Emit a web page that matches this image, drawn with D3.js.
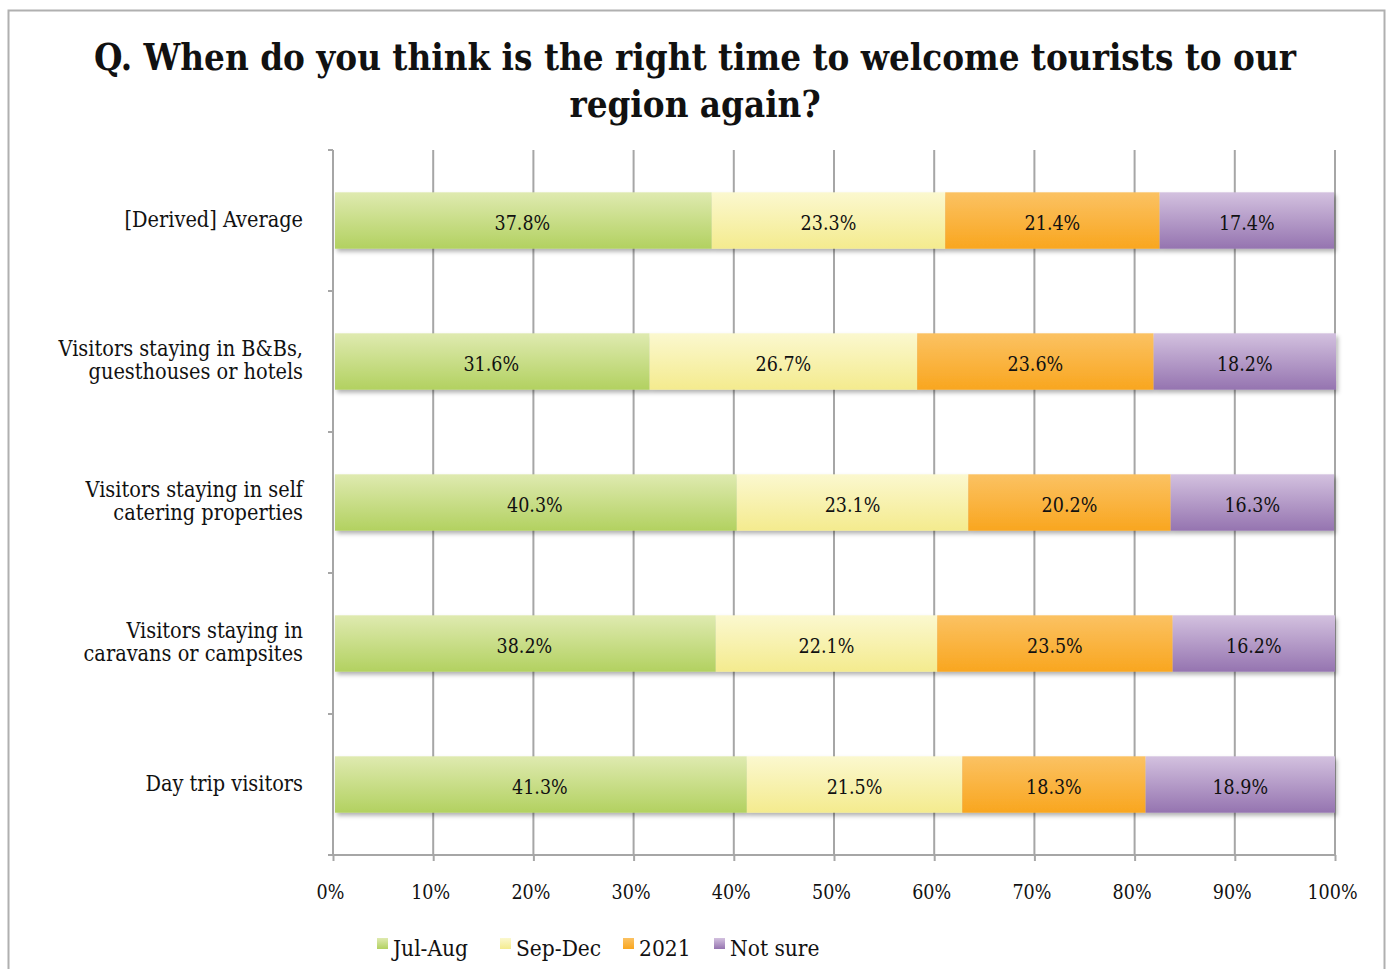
<!DOCTYPE html>
<html>
<head>
<meta charset="utf-8">
<script src="https://cdn.jsdelivr.net/npm/d3@7"></script>
<style>
  html, body { margin: 0; padding: 0; background: #fff; }
  svg text { font-family: "DejaVu Serif", serif; font-stretch: condensed; fill: #111; }
</style>
</head>
<body>
<svg id="chart" width="1391" height="969"></svg>
<script>
// Survey responses, % of respondents per visitor type
const categories = [
  "[Derived] Average",
  "Visitors staying in B&Bs,\nguesthouses or hotels",
  "Visitors staying in self\ncatering properties",
  "Visitors staying in\ncaravans or campsites",
  "Day trip visitors"
];
const seriesNames = ["Jul-Aug", "Sep-Dec", "2021", "Not sure"];
const julAug  = [37.8, 31.6, 40.3, 38.2, 41.3];
const sepDec  = [23.3, 26.7, 23.1, 22.1, 21.5];
const y2021   = [21.4, 23.6, 20.2, 23.5, 18.3];
const notSure = [17.4, 18.2, 16.3, 16.2, 18.9];
const xTicks  = [0, 10, 20, 30, 40, 50, 60, 70, 80, 90, 100];
const titleLines = [
  "Q. When do you think is the right time to welcome tourists to our",
  "region again?"
];

const seriesValues = [julAug, sepDec, y2021, notSure];
const gradients = [
  ["#dfeab0", "#b2d160"],
  ["#fbf8cf", "#f4eb8e"],
  ["#fbc263", "#f9a61f"],
  ["#d3c1df", "#9574b0"]
];

const svg = d3.select("#chart");
const defs = svg.append("defs");

gradients.forEach((g, i) => {
  const lg = defs.append("linearGradient")
    .attr("id", "grad" + i).attr("x1", 0).attr("y1", 0).attr("x2", 0).attr("y2", 1);
  lg.append("stop").attr("offset", "0%").attr("stop-color", g[0]);
  lg.append("stop").attr("offset", "100%").attr("stop-color", g[1]);
});

const shadow = defs.append("filter").attr("id", "shadow")
  .attr("x", "-5%").attr("y", "-20%").attr("width", "110%").attr("height", "160%");
shadow.append("feDropShadow").attr("dx", 2).attr("dy", 3).attr("stdDeviation", 2)
  .attr("flood-color", "#000").attr("flood-opacity", 0.3);

// outer frame
svg.append("rect").attr("x", 8.5).attr("y", 10.5).attr("width", 1376).attr("height", 980)
  .attr("fill", "none").attr("stroke", "#b0b0b0").attr("stroke-width", 2);

// title
const titleG = svg.append("g");
titleLines.forEach((t, i) => {
  titleG.append("text")
    .attr("x", 695).attr("y", 70 + i * 47)
    .attr("text-anchor", "middle")
    .style("font-size", "37px").style("font-weight", "bold")
    .text(t);
});
// keep the first title line within its box
const t0 = titleG.select("text").node();
const w0 = t0.getComputedTextLength();
if (w0 > 1202) {
  const k = 1202 / w0;
  titleG.selectAll("text").each(function () {
    const w = this.getComputedTextLength();
    d3.select(this).attr("textLength", w * k).attr("lengthAdjust", "spacingAndGlyphs");
  });
}

const x0 = 333, x1 = 1335, yTop = 150, yBot = 855;
const x = d3.scaleLinear().domain([0, 100]).range([x0, x1]);
const y = d3.scaleBand().domain(categories).range([yTop, yBot])
  .paddingInner(0.6).paddingOuter(0.3);

// vertical gridlines
svg.append("g").selectAll("line").data(xTicks.slice(1)).join("line")
  .attr("x1", d => x(d)).attr("x2", d => x(d))
  .attr("y1", yTop).attr("y2", yBot)
  .attr("stroke", "#a6a6a6").attr("stroke-width", 2);

// bottom axis
const xAxis = svg.append("g").attr("transform", `translate(0,${yBot})`)
  .call(d3.axisBottom(x).tickValues(xTicks).tickFormat(d => d + "%").tickSize(6).tickPadding(24));
xAxis.select(".domain").attr("stroke", "#a6a6a6").attr("stroke-width", 2)
  .attr("d", `M${x0 - 4},0H${x1}`);
xAxis.selectAll(".tick line").attr("stroke", "#a6a6a6").attr("stroke-width", 2);
xAxis.selectAll(".tick text").style("font-size", "19.5px").style("font-family", "\"DejaVu Serif\", serif")
  .attr("fill", "#111").attr("dx", "-3");

// left axis with boundary ticks
const leftG = svg.append("g");
leftG.append("line").attr("x1", x0).attr("x2", x0).attr("y1", yTop).attr("y2", yBot)
  .attr("stroke", "#a6a6a6").attr("stroke-width", 2);
const bounds = d3.range(categories.length + 1).map(i => yTop + i * y.step());
leftG.selectAll("line.b").data(bounds).join("line").attr("class", "b")
  .attr("x1", x0 - 5).attr("x2", x0).attr("y1", d => d).attr("y2", d => d)
  .attr("stroke", "#a6a6a6").attr("stroke-width", 2);

// stacked bars
const rows = categories.map((c, i) => {
  let acc = 0;
  return seriesValues.map((vals, s) => {
    const start = acc; acc += vals[i];
    return { cat: c, s, start, end: acc, v: vals[i] };
  });
});

const barsG = svg.append("g");
rows.forEach(row => {
  const g = barsG.append("g").attr("filter", "url(#shadow)");
  g.selectAll("rect").data(row).join("rect")
    .attr("x", d => x(d.start) + (d.s === 0 ? 2 : 0))
    .attr("width", d => x(d.end) - x(d.start) - (d.s === 0 ? 2 : 0))
    .attr("y", d => y(d.cat)).attr("height", y.bandwidth())
    .attr("fill", d => `url(#grad${d.s})`);
});
rows.forEach(row => {
  barsG.append("g").selectAll("text").data(row).join("text")
    .attr("x", d => x((d.start + d.end) / 2))
    .attr("y", d => y(d.cat) + y.bandwidth() / 2 + 2)
    .attr("dy", "0.36em")
    .attr("text-anchor", "middle")
    .style("font-size", "19.5px")
    .text(d => d.v.toFixed(1) + "%");
});

// category labels, each block centred on its bar
const lineGap = 23;
const catG = svg.append("g");
categories.forEach(c => {
  const lines = c.split("\n");
  const cy = y(c) + y.bandwidth() / 2;
  const first = cy - (lines.length - 1) * lineGap / 2;
  const t = catG.append("text").attr("text-anchor", "end").style("font-size", "21.5px");
  lines.forEach((ln, j) => {
    t.append("tspan").attr("x", 303)
      .attr("y", first + j * lineGap)
      .attr("dy", "0.3em")
      .text(ln);
  });
});

// legend
const legendX = [377, 500, 623, 714];
const legendG = svg.append("g");
seriesNames.forEach((n, i) => {
  legendG.append("rect").attr("x", legendX[i]).attr("y", 938)
    .attr("width", 11).attr("height", 11).attr("fill", `url(#grad${i})`);
  legendG.append("text").attr("x", legendX[i] + 16).attr("y", 956)
    .style("font-size", "22.5px").text(n);
});
</script>
</body>
</html>
